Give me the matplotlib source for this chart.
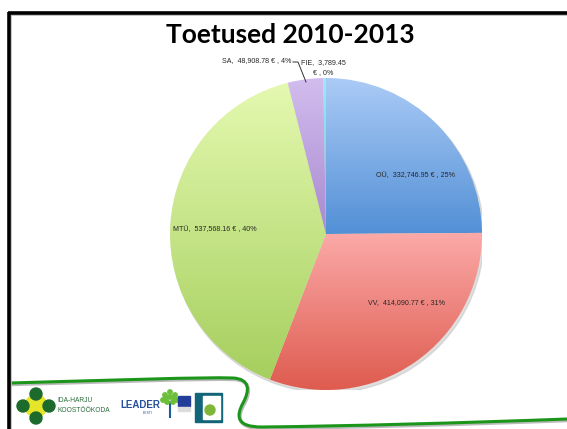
import numpy as np
import matplotlib
matplotlib.use("Agg")
import matplotlib.pyplot as plt
from matplotlib.colors import LinearSegmentedColormap
from matplotlib.patches import Circle, Rectangle
from matplotlib.path import Path
from matplotlib.patches import PathPatch

# --- data ---
labels = ["OÜ", "VV", "MTÜ", "SA", "FIE"]
values = [332746.95, 414090.77, 537568.16, 48908.78, 3789.45]
shares = ["25%", "31%", "40%", "4%", "0%"]
value_text = ["332,746.95", "414,090.77", "537,568.16", "48,908.78", "3,789.45"]
# light (top) -> dark (bottom) per slice
grad_colors = [("#abcbf6", "#5290d6"),
               ("#fbaaa8", "#de5a4e"),
               ("#e4f9b0", "#a6cf5e"),
               ("#d2bdee", "#a889cf"),
               ("#9eeaf6", "#5cc8dc")]

W, H = 567, 429
fig = plt.figure(figsize=(W / 100, H / 100), dpi=100)
fig.patch.set_facecolor("white")

# background / frame layer in pixel coords
bg = fig.add_axes([0, 0, 1, 1])
bg.set_xlim(0, W)
bg.set_ylim(H, 0)
bg.axis("off")
bg.plot([9, W], [14.5, 14.5], color="#bbbbbb", lw=1.2, solid_capstyle="butt")
bg.plot([10.5, 10.5], [14, H], color="#bbbbbb", lw=1.2, solid_capstyle="butt")
bg.plot([8, W], [12.5, 12.5], color="black", lw=2.6, solid_capstyle="butt")
bg.plot([8.5, 8.5], [11.5, H], color="black", lw=2.6, solid_capstyle="butt")

bg.text(290, 35, "Toetused 2010-2013", ha="center", va="center",
        fontsize=19, fontweight="bold", family="Lato", color="black")

# --- pie ---
cx, cy, r = 326, 234, 156
ax = fig.add_axes([(cx - r) / W, (H - cy - r) / H, 2 * r / W, 2 * r / H])
# shadow
ax.add_patch(Circle((0.012, -0.018), 1.0, color="#c8c8c8", alpha=0.6, zorder=0))
wedges, _ = ax.pie(values, startangle=90, counterclock=False, radius=1,
                   wedgeprops=dict(linewidth=0))
for w, (c1, c2) in zip(wedges, grad_colors):
    verts = w.get_patch_transform().transform(w.get_path().vertices)
    y0, y1 = verts[:, 1].min(), verts[:, 1].max()
    cmap = LinearSegmentedColormap.from_list("g", [c2, c1])
    grad = np.linspace(0, 1, 256).reshape(-1, 1)
    im = ax.imshow(grad, extent=[-1, 1, y0, y1], origin="lower", cmap=cmap,
                   aspect="auto", zorder=2, interpolation="bilinear")
    im.set_clip_path(w)
    w.set_facecolor("none")
ax.set_xlim(-1, 1)
ax.set_ylim(-1, 1)
ax.axis("off")

def px(x, y):
    return (x - cx) / r, (cy - y) / r

lbl_kw = dict(fontsize=5.1, family="Liberation Sans", color="#262626", zorder=5)
pos = {0: (416, 176), 1: (407, 303), 2: (215, 230)}
for i, (x, y) in pos.items():
    ax.text(*px(x, y), f"{labels[i]},  {value_text[i]} € , {shares[i]}",
            ha="center", va="center", **lbl_kw)
ax.text(*px(291, 61), f"{labels[3]},  {value_text[3]} € , {shares[3]}",
        ha="right", va="center", clip_on=False, **lbl_kw)
ax.text(*px(323, 68), f"{labels[4]},  {value_text[4]}\n€ , {shares[4]}",
        ha="center", va="center", clip_on=False, linespacing=1.6, **lbl_kw)
lx, ly = zip(px(293, 62), px(298, 62), px(306, 82))
ax.plot(lx, ly, color="#333333", lw=0.7, clip_on=False, zorder=5)

# --- footer ---
verts = [(10, 383), (120, 380), (200, 377), (233, 378),
         (250, 379), (250, 390), (243, 403),
         (236, 416), (236, 427), (262, 427),
         (350, 426), (460, 423), (W, 419)]
codes = [Path.MOVETO, Path.CURVE4, Path.CURVE4, Path.CURVE4,
         Path.CURVE4, Path.CURVE4, Path.CURVE4,
         Path.CURVE4, Path.CURVE4, Path.CURVE4,
         Path.CURVE4, Path.CURVE4, Path.CURVE4]
shadow = [(x + 1, y + 1.5) for x, y in verts]
bg.add_patch(PathPatch(Path(shadow, codes), fill=False, ec="#bbbbbb", lw=2.5))
bg.add_patch(PathPatch(Path(verts, codes), fill=False, ec="#1b961b", lw=2.2))

# Ida-Harju logo
bg.add_patch(Circle((36, 406), 11, color="#e5e52a", zorder=3))
for dx, dy in [(0, -12), (0, 12), (-13, 0), (13, 0)]:
    bg.add_patch(Circle((36 + dx, 406 + dy), 6, color="#1c6a2c", zorder=4))
bg.text(57, 401, "IDA-HARJU", fontsize=4.8, color="#2b6d3a", va="center",
        family="Liberation Sans")
bg.text(57, 411, "KOOSTÖÖKODA", fontsize=4.8, color="#2b6d3a", va="center",
        family="Liberation Sans")

# LEADER logo
bg.text(120, 405, "LEADER", fontsize=7, fontweight="bold", color="#27509b",
        va="center", family="Liberation Sans")
bg.text(148, 413, "EESTI", fontsize=2.5, color="#27509b", ha="center",
        va="center")
bg.plot([170, 170], [402, 417], color="#1b5c9e", lw=1.5)
for dx, dy in [(-5, -12), (0, -15), (5, -12), (-7, -7), (7, -7), (-3, -5),
               (3, -5), (0, -10), (-4, -9), (4, -9)]:
    bg.add_patch(Circle((170 + dx, 407 + dy), 2.2, color="#6cbf3a", zorder=3))
bg.add_patch(Rectangle((178, 396), 12, 10, color="#233e99", zorder=3))
bg.add_patch(Rectangle((178, 407), 12, 4, color="#dddddd", zorder=3))

# Leader EU logo
bg.add_patch(Rectangle((195, 393), 27, 29, color="#13657a", zorder=3))
bg.add_patch(Rectangle((203, 396), 17, 23, color="white", zorder=4))
bg.add_patch(Circle((210, 410), 5, color="#7fb539", zorder=5))

fig.savefig("out.png", dpi=100)
